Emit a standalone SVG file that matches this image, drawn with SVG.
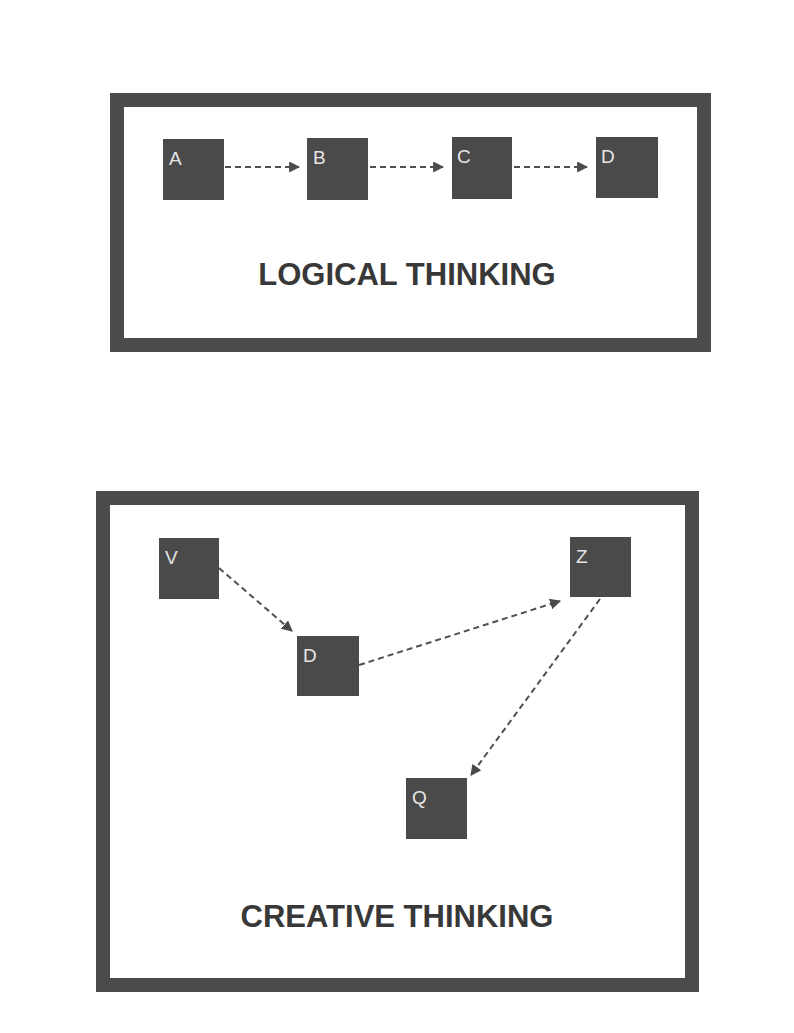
<svg xmlns="http://www.w3.org/2000/svg" width="794" height="1033" viewBox="0 0 794 1033">
  <defs>
    <marker id="arr" viewBox="0 0 10 10" refX="9" refY="5" markerWidth="5.5" markerHeight="5.5" orient="auto" markerUnits="strokeWidth">
      <path d="M0,0 L10,5 L0,10 z" fill="#4a4a4a"/>
    </marker>
    <style>
      .frame { fill: none; stroke: #4b4b4b; stroke-width: 14; }
      .box { fill: #4a4a4a; }
      .lbl { font-family: "Liberation Sans", Arial, sans-serif; font-size: 19px; fill: #e6e6e6; }
      .title { font-family: "Liberation Sans", Arial, sans-serif; font-size: 31px; font-weight: bold; fill: #383838; text-anchor: middle; }
      .conn { fill: none; stroke: #505050; stroke-width: 2; stroke-dasharray: 6 4; marker-end: url(#arr); }
    </style>
  </defs>
  <rect x="0" y="0" width="794" height="1033" fill="#ffffff"/>

  <g id="logical-frame">
    <rect class="frame" x="117" y="100" width="587" height="245"/>
    <text class="title" x="407" y="285">LOGICAL THINKING</text>
  </g>
  <g id="node-A"><rect class="box" x="163" y="139" width="61" height="61"/><text class="lbl" x="169" y="165">A</text></g>
  <g id="node-B"><rect class="box" x="307" y="138" width="61" height="62"/><text class="lbl" x="313" y="164">B</text></g>
  <g id="node-C"><rect class="box" x="452" y="137" width="60" height="62"/><text class="lbl" x="457" y="163">C</text></g>
  <g id="node-D1"><rect class="box" x="596" y="137" width="62" height="61"/><text class="lbl" x="601" y="163">D</text></g>

  <g id="creative-frame">
    <rect class="frame" x="103" y="498" width="589" height="487"/>
    <text class="title" x="397" y="927">CREATIVE THINKING</text>
  </g>
  <g id="node-V"><rect class="box" x="159" y="538" width="60" height="61"/><text class="lbl" x="165" y="564">V</text></g>
  <g id="node-D2"><rect class="box" x="297" y="636" width="62" height="60"/><text class="lbl" x="303" y="662">D</text></g>
  <g id="node-Z"><rect class="box" x="570" y="537" width="61" height="60"/><text class="lbl" x="576" y="563">Z</text></g>
  <g id="node-Q"><rect class="box" x="406" y="778" width="61" height="61"/><text class="lbl" x="412" y="804">Q</text></g>

  <g id="connectors">
    <line class="conn" x1="225" y1="167" x2="299" y2="167"/>
    <line class="conn" x1="370" y1="167" x2="443" y2="167"/>
    <line class="conn" x1="514" y1="167" x2="587" y2="167"/>
    <line class="conn" x1="219" y1="568" x2="292" y2="631"/>
    <line class="conn" x1="359" y1="665" x2="560" y2="601"/>
    <line class="conn" x1="600" y1="599" x2="471" y2="775"/>
  </g>
</svg>
